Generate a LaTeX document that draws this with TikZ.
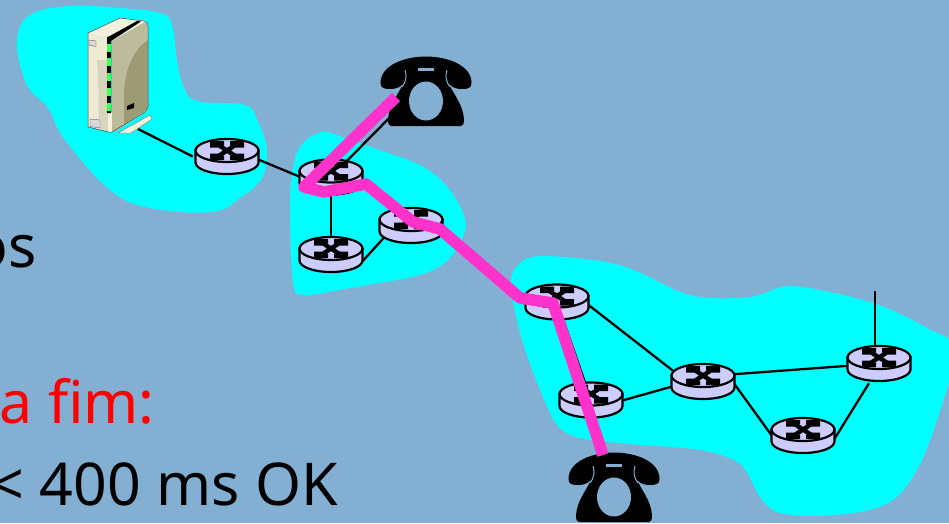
\documentclass[tikz,border=0pt]{standalone}
\usepackage{fontspec}
\setmainfont{Noto Sans}
\definecolor{bgblue}{RGB}{131,175,210}
\definecolor{blob}{RGB}{0,255,255}
\definecolor{rtrfill}{RGB}{204,204,255}
\definecolor{voice}{RGB}{255,51,204}
\definecolor{ledgreen}{RGB}{70,255,70}
\definecolor{srvtop}{RGB}{243,240,222}
\definecolor{srvleft}{RGB}{238,234,212}
\definecolor{srvshade}{RGB}{217,213,188}
\definecolor{srvright}{RGB}{190,186,156}
\definecolor{srvdark}{RGB}{157,155,116}
\pgfdeclarelayer{blobs}
\pgfdeclarelayer{edges}
\pgfsetlayers{blobs,edges,main}
\newcommand{\phoneat}[2]{%
  \begin{scope}[shift={(#1,#2)}]
    \fill[black] (0.5,27) .. controls (0.5,9) and (25,0.5) .. (46,0.5)
      .. controls (67,0.5) and (91.5,9) .. (91.5,27)
      .. controls (91.5,32) and (88,33) .. (82,33)
      .. controls (74,33) and (70,30) .. (68,26)
      .. controls (72,36) and (83,48) .. (84,63)
      .. controls (84,68) and (83,70) .. (81,70)
      -- (11,70) .. controls (9,70) and (8,68) .. (8,63)
      .. controls (9,48) and (20,36) .. (24,26)
      .. controls (22,30) and (18,33) .. (10,33)
      .. controls (4,33) and (0.5,32) .. (0.5,27) -- cycle;
    \fill[bgblue] (46,45) ellipse[x radius=17,y radius=19.5];
    \fill[bgblue] (38,11.5) rectangle (54,14.5);
    \draw[bgblue,line width=1pt] (25,14) .. controls (27,20) and (26,26) .. (22,31);
    \draw[bgblue,line width=1pt] (67,14) .. controls (65,20) and (66,26) .. (70,31);
  \end{scope}}
\tikzset{
  x=1pt,y=-1pt,
  blobshape/.style={fill=blob,draw=none},
  link/.style={draw=black,line width=2.3pt},
  voicepath/.style={draw=voice,line width=11.5pt,line join=round},
  slidetext/.style={inner sep=0pt,font=\fontsize{59}{70}\selectfont},
  routermark/.style={line width=4.4pt,draw=black},
  routernode/.style={draw=none,inner sep=0pt,minimum width=68pt,minimum height=39pt,
    path picture={
      \begin{scope}[shift={(path picture bounding box.center)}]
        \draw[black,line width=2.2pt,fill=rtrfill]
          (-31.5,-6) -- (-31.5,6) arc[start angle=180,end angle=360,x radius=31.5,y radius=-11.5]
          -- (31.5,-6) -- cycle;
        \draw[black,line width=2.2pt,fill=rtrfill] (0,-6) ellipse[x radius=31.5,y radius=11.5];
        \draw[routermark] (-10,-12.5) -- (10,0.5) (10,-12.5) -- (-10,0.5);
        \fill[black] (-17,-15.5) -- (-3,-15.5) -- (-3,-11) -- (-9,-11) -- (-9,-9) -- (-17,-9) -- cycle
                     (17,-15.5) -- (3,-15.5) -- (3,-11) -- (9,-11) -- (9,-9) -- (17,-9) -- cycle
                     (-17,3.5) -- (-3,3.5) -- (-3,-1) -- (-9,-1) -- (-9,-3) -- (-17,-3) -- cycle
                     (17,3.5) -- (3,3.5) -- (3,-1) -- (9,-1) -- (9,-3) -- (17,-3) -- cycle;
      \end{scope}
    }},
  phonenode/.style={draw=none,inner sep=0pt,minimum width=92pt,minimum height=70pt},
  serverbox/.style={draw=none,inner sep=0pt,minimum width=68pt,minimum height=118pt}
}
\begin{document}
\begin{tikzpicture}
\useasboundingbox (0,0) rectangle (949,523);
\begin{pgfonlayer}{blobs}
\fill[bgblue] (0,0) rectangle (949,523);
\fill[blobshape] plot[smooth cycle,tension=0.65] coordinates {
  (17,42) (30,15) (70,6) (120,8) (160,13) (172,25) (177,60) (183,85) (197,101)
  (245,105) (258,122) (267,150) (262,178) (240,198) (212,212) (150,208) (110,190)
  (65,140) (48,108) (27,85)};
\fill[blobshape] plot[smooth cycle,tension=0.5] coordinates {
  (290,200) (296,155) (310,137) (327,132) (350,140) (420,165) (450,190) (466,225)
  (450,258) (420,275) (350,288) (305,295) (293,283)};
\fill[blobshape] plot[smooth cycle,tension=0.55] coordinates {
  (511,285) (520,263) (545,256) (620,265) (690,295) (750,297) (793,286) (873,303)
  (927,328) (955,350) (937,420) (917,470) (893,500) (860,512) (810,516) (777,512)
  (760,497) (740,464) (700,450) (630,444) (580,438) (558,426) (543,397) (522,340)};
\end{pgfonlayer}

\node[routernode] (r1) at (227,156.5) {};
\node[routernode] (r2) at (331,177) {};
\node[routernode] (r3) at (411,225.5) {};
\node[routernode] (r4) at (331,254.5) {};
\node[routernode] (r5) at (557,302) {};
\node[routernode] (r6) at (591,400) {};
\node[routernode] (r7) at (703,381.5) {};
\node[routernode] (r8) at (803,435.5) {};
\node[routernode] (r9) at (879,363.5) {};
\node[phonenode] (ph1) at (426,91) {};
\node[phonenode] (ph2) at (614,487) {};
\node[serverbox] (srv) at (120,75) {};
\coordinate (srvport) at (138,129);
\coordinate (ph1port) at (410,97);
\coordinate (r9port) at (875,360);
\coordinate (free) at (875,291);

\begin{pgfonlayer}{edges}
\draw[link] (srvport) -- (r1.west);
\draw[link] ([xshift=24pt]r1.center) -- ([xshift=-21pt,yshift=-4pt]r2.center);
\draw[link] (r2.center) -- (ph1port);
\draw[link] (r2.center) -- (r4.center);
\draw[link] ([xshift=29pt,yshift=-9.5pt]r4.center) -- ([xshift=-21pt,yshift=-5.5pt]r3.center);
\draw[link] (r5.center) -- (r6.center);
\draw[link] ([xshift=20pt,yshift=6pt]r5.center) -- ([xshift=-13pt,yshift=-2.5pt]r7.center);
\draw[link] ([xshift=19pt,yshift=-4pt]r6.center) -- ([xshift=-13pt]r7.center);
\draw[link] ([yshift=5pt]r7.center) -- (r9.center);
\draw[link] ([xshift=22pt,yshift=10.5pt]r7.center) -- ([xshift=-23pt,yshift=-11.5pt]r8.center);
\draw[link] ([xshift=27pt,yshift=-10.5pt]r8.center) -- ([xshift=-10pt]r9.south);
\draw[link] (r9port) -- (free);
\end{pgfonlayer}

\phoneat{380}{56}
\phoneat{568}{452}

% server
\begin{scope}
  \fill[srvtop] (118,133) -- (150,115) -- (152,119) -- (131,133) -- cycle;
  \draw[black!55,line width=.4pt] (118,133) -- (150,115) -- (152,119) -- (131,133) -- cycle;
  \fill[srvtop] (88,33) -- (120,18) -- (147,21) -- (112,41) -- cycle;
  \fill[srvleft] (88,33) -- (108,40) -- (108,131) -- (88,127) -- cycle;
  \fill[srvshade] (97,60) .. controls (99,85) and (99,110) .. (98,128) -- (108,131) -- (108,60) -- cycle;
  \fill[srvtop] (108,112) -- (112,112) -- (112,132) -- (108,132) -- cycle;
  \fill[black] (108,37) -- (137,21) -- (141,21.5) -- (111,41) -- (111,113) -- (107,113) -- (107,37) -- cycle;
  \fill[srvright] (112,41) -- (145,22) .. controls (148,22) and (148,24) .. (148,26)
     -- (148,107) .. controls (148,110) and (146,111) .. (145,112) -- (116,131) -- (112,132) -- cycle;
  \fill[srvdark] (148,40) .. controls (133,50) and (125,70) .. (124,92)
     -- (124,124) -- (146,110) -- (148,107) -- cycle;
  \foreach \ly in {48,62,77,92,107}{\fill[ledgreen] (107.3,\ly-4) rectangle (110.7,\ly+4);}
  \fill[black] (127,106) -- (134,103) -- (134,108) -- (127,110) -- cycle;
  \filldraw[fill=black!15,draw=black!60,line width=.4pt] (89,40) -- (96,41) -- (96,46.5) -- (89,45) -- cycle;
  \filldraw[fill=black!15,draw=black!60,line width=.4pt] (90,119) -- (100,120) -- (100,128) -- (90,126.5) -- cycle;
  \draw[black!70,line width=.5pt] (88,33) -- (120,18) -- (144,21) .. controls (148,22) and (148,24) .. (148,26)
     -- (148,107) -- (145,112) -- (112,132) -- (108,132) -- (88,127) -- cycle;
\end{scope}

\draw[voicepath] (396,97) -- (304,187) -- (324,192) -- (366,184) -- (413,222) -- (440,229)
  -- (520,298) -- (553,303) -- (603,455);

\node[slidetext,anchor=base east] (t1) at (37,267) {os};
\node[slidetext,anchor=base east,text=red] (t2) at (155,423) {a fim:};
\node[slidetext,anchor=base east] (t3) at (338,505) {< 400 ms OK};
\end{tikzpicture}
\end{document}
